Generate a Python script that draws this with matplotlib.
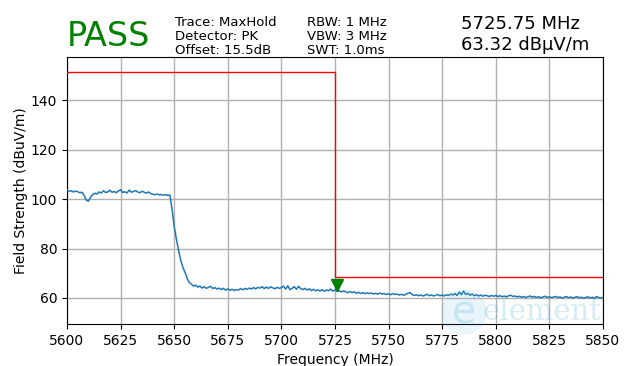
import numpy as np
import matplotlib
matplotlib.use("Agg")
import matplotlib.pyplot as plt

freq_start = 5600
freq_step = 1
level = [
    103.6, 103.2, 103.4, 102.9, 103.3, 103.0, 102.6, 102.8, 101.5, 99.6,
    99.2, 100.8, 101.9, 102.4, 102.1, 102.9, 102.5, 103.4, 102.7, 102.9,
    103.6, 102.8, 103.1, 102.6, 103.3, 103.8, 102.7, 103.0, 102.5, 103.7,
    102.8, 103.1, 103.5, 102.9, 102.6, 103.2, 102.8, 102.4, 102.9, 102.3,
    102.0, 101.8, 102.1, 101.7, 101.9, 101.6, 101.8, 101.5, 101.7, 96.0,
    89.0, 84.0, 79.5, 75.5, 72.5, 70.5, 68.0, 66.3, 65.6, 64.8,
    65.2, 64.4, 64.8, 64.0, 64.6, 63.9, 64.3, 64.7, 63.8, 64.2,
    63.6, 64.0, 63.4, 63.9, 63.2, 63.7, 63.1, 63.5, 63.0, 63.4,
    63.2, 63.8, 63.3, 63.9, 63.5, 64.0, 63.6, 64.2, 63.7, 64.3,
    64.0, 64.6, 63.8, 64.4, 63.9, 64.5, 64.1, 63.7, 64.3, 63.9,
    64.2, 64.8, 63.6, 64.9, 63.4, 63.9, 64.6, 63.5, 64.7, 63.8,
    63.4, 63.9, 63.2, 63.7, 63.0, 63.5, 62.9, 63.3, 62.8, 63.4,
    62.7, 63.2, 62.9, 63.6, 62.8, 63.3, 62.6, 63.0, 62.4, 62.9,
    62.5, 62.1, 62.6, 62.2, 62.5, 61.9, 62.3, 61.8, 62.2, 61.7,
    62.1, 61.8, 62.0, 61.6, 61.9, 61.5, 62.0, 61.6, 61.8, 61.4,
    61.7, 61.3, 61.8, 61.4, 61.6, 61.2, 61.5, 61.1, 61.4, 61.9,
    62.2, 61.4, 61.0, 61.3, 60.9, 61.2, 60.8, 61.1, 61.5, 60.9,
    61.2, 60.8, 61.1, 61.4, 60.9, 61.2, 60.8, 61.3, 61.0, 61.6,
    61.2, 61.8, 61.0, 62.4, 61.3, 62.8, 61.4, 61.9, 61.1, 61.6,
    60.9, 61.3, 60.8, 61.2, 60.7, 61.1, 60.9, 60.6, 61.0, 60.7,
    61.0, 60.6, 60.9, 60.5, 60.8, 60.4, 60.9, 61.1, 60.6, 60.8,
    60.4, 60.7, 60.3, 60.6, 60.2, 60.5, 60.8, 60.3, 60.6, 60.2,
    60.5, 60.1, 60.4, 60.7, 60.2, 60.5, 60.1, 60.4, 60.6, 60.2,
    60.4, 60.0, 60.3, 60.6, 60.1, 60.4, 60.0, 60.3, 60.5, 60.1,
    60.3, 59.9, 60.2, 60.5, 60.0, 60.3, 59.9, 60.6, 60.2, 60.0,
    60.2,
]
freq = [freq_start + i * freq_step for i in range(len(level))]

limit_freq = [5600, 5725, 5725, 5850]
limit_level = [151.3, 151.3, 68.3, 68.3]

marker_freq = 5725.75
marker_level = 63.32

x_ticks = [5600, 5625, 5650, 5675, 5700, 5725, 5750, 5775, 5800, 5825, 5850]
y_ticks = [60, 80, 100, 120, 140]

fig = plt.figure(figsize=(6.32, 3.66), dpi=100)
ax = fig.add_axes([0.106, 0.115, 0.848, 0.729])

ax.plot(freq, level, color="#1f77b4", linewidth=1.1, zorder=3)
ax.plot(limit_freq, limit_level, color="red", linewidth=1.0, zorder=4)
ax.plot([marker_freq], [marker_level + 2.0], marker="v", color="green",
        markersize=8, linestyle="none", zorder=5)

ax.set_xlim(5600, 5850)
ax.set_ylim(49.5, 157.5)
ax.set_xticks(x_ticks)
ax.set_yticks(y_ticks)
ax.grid(True, color="#b0b0b0", linewidth=1.0)
ax.set_axisbelow(True)
ax.set_xlabel("Frequency (MHz)", fontsize=10)
ax.set_ylabel("Field Strength (dBuV/m)", fontsize=10, labelpad=2)
ax.tick_params(labelsize=10)

fig.text(0.106, 0.899, "PASS", color="green", fontsize=24, va="center", ha="left")
info1 = ["Trace: MaxHold", "Detector: PK", "Offset: 15.5dB"]
info2 = ["RBW: 1 MHz", "VBW: 3 MHz", "SWT: 1.0ms"]
ys = [22, 37, 51]
for t, y in zip(info1, ys):
    fig.text(175 / 632, 1 - y / 366, t, fontsize=9.5, va="center", ha="left")
for t, y in zip(info2, ys):
    fig.text(307 / 632, 1 - y / 366, t, fontsize=9.5, va="center", ha="left")
fig.text(461 / 632, 1 - 24 / 366, "5725.75 MHz", fontsize=13, va="center", ha="left")
fig.text(461 / 632, 1 - 45 / 366, "63.32 dBμV/m", fontsize=13, va="center", ha="left")

fig.text(482 / 632, 1 - 312 / 366, "element", fontsize=21, family="DejaVu Serif",
         color="#5ab4e0", alpha=0.25, va="center", ha="left", zorder=0)
fig.text(464 / 632, 1 - 312 / 366, "e", fontsize=28, family="DejaVu Sans",
         color="#5ab4e0", alpha=0.25, va="center", ha="center", zorder=0,
         bbox=dict(boxstyle="circle,pad=0.1", fc="#5ab4e0", ec="none", alpha=0.12))

fig.savefig("out.png", dpi=100)
